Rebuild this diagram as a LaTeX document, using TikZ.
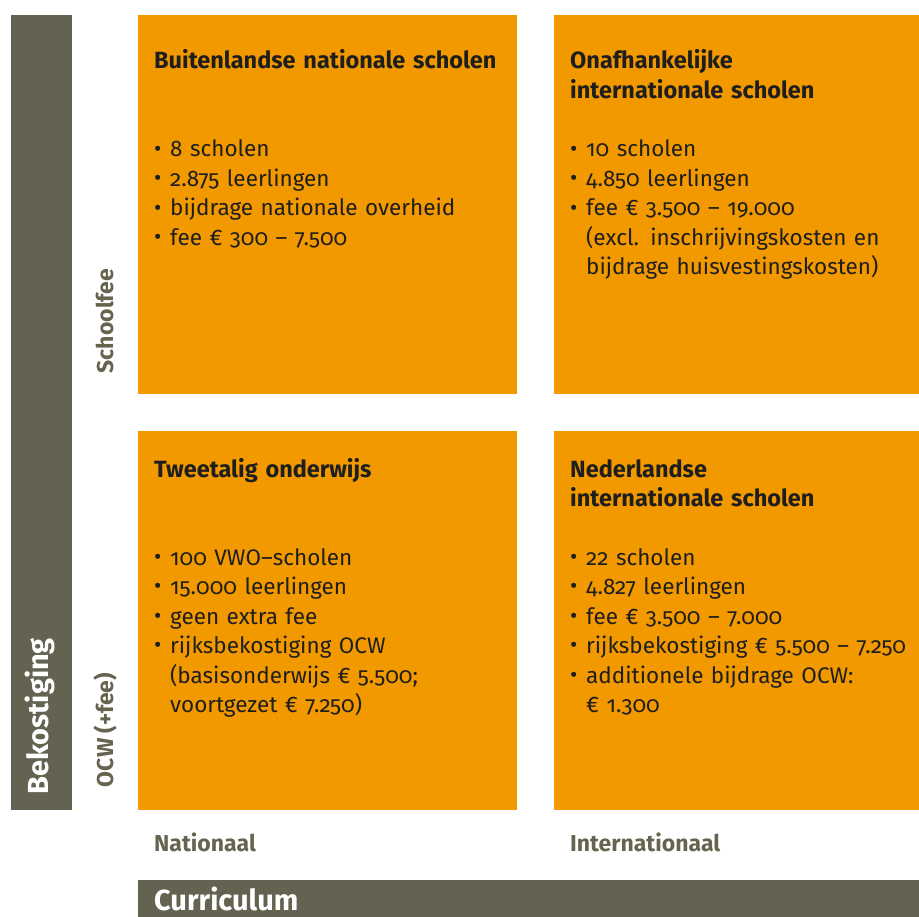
\documentclass[tikz,border=0pt]{standalone}
\usepackage{fontspec}
\setmainfont{Fira Sans}[Numbers=OldStyle]
\usetikzlibrary{positioning}

\definecolor{barcol}{HTML}{646251}
\definecolor{boxcol}{HTML}{F29900}
\definecolor{labelcol}{HTML}{66634F}
\definecolor{inkcol}{HTML}{1E1E1E}

\newcommand{\bul}{\makebox[16pt][l]{\raisebox{.05ex}{•}}}
\newcommand{\cont}{\hspace*{16pt}}

\tikzset{
  cell/.style={fill=boxcol, anchor=north west, inner sep=0pt, minimum height=379pt, minimum width=#1},
  bar/.style={fill=barcol, anchor=north west, inner sep=0pt},
  head/.style={anchor=base west, inner sep=0pt, text width=#1, align=left, text=inkcol,
    font=\fontsize{23.5}{29.5}\selectfont\bfseries},
  facts/.style={anchor=base west, inner sep=0pt, text width=#1, align=left, text=inkcol,
    font=\fontsize{22.5}{29.5}\selectfont},
  axis/.style={inner sep=0pt, text=labelcol, font=\fontsize{23}{26}\selectfont\bfseries},
  title/.style={inner sep=0pt, text=white, font=\fontsize{29}{32}\selectfont\bfseries}
}

\begin{document}
\begin{tikzpicture}[x=1pt, y=-1pt]
    \useasboundingbox (0,0) rectangle (919,917);

    % bars
    \node[bar, minimum width=61pt, minimum height=795pt] (vbar) at (11,15) {};
    \node[bar, minimum width=781pt, minimum height=37pt] (hbar) at (138,880) {};
    \node[title, rotate=90, anchor=base west] (bek) at (48,795) {Bekostiging};
    \node[title, anchor=base west] (cur) at (154,910) {Curriculum};

    % cells
    \node[cell=379pt] (nw) at (138,15) {};
    \node[cell=365pt] (ne) at (554,15) {};
    \node[cell=379pt] (sw) at (138,431) {};
    \node[cell=365pt] (se) at (554,431) {};

    % axis labels
    \node[axis, rotate=90, anchor=base] (sfee) at (113,321) {Schoolfee};
    \node[axis, rotate=90, anchor=base] (ocw) at (113,730) {OCW (+fee)};
    \node[axis, anchor=base west] (nat) at (154,851) {Nationaal};
    \node[axis, anchor=base west] (int) at (570,851) {Internationaal};

    % texts
    \node[head=360pt] (nwh) at ([xshift=16pt, yshift=-54pt]nw.north west) {Buitenlandse nationale scholen};
    \node[facts=360pt] (nwf) at ([xshift=16pt, yshift=-142pt]nw.north west)
        {\bul 8 scholen\\ \bul 2.875 leerlingen\\ \bul bijdrage nationale overheid\\ \bul fee € 300 – 7.500};

    \node[head=345pt] (neh) at ([xshift=16pt, yshift=-54pt]ne.north west) {Onafhankelijke\\ internationale scholen};
    \node[facts=350pt] (nef) at ([xshift=16pt, yshift=-142pt]ne.north west)
        {\bul 10 scholen\\ \bul 4.850 leerlingen\\ \bul fee € 3.500 – 19.000\\
         \cont(excl. inschrijvingskosten en\\ \cont bijdrage huisvestingskosten)};

    \node[head=360pt] (swh) at ([xshift=16pt, yshift=-46pt]sw.north west) {Tweetalig onderwijs};
    \node[facts=360pt] (swf) at ([xshift=16pt, yshift=-134pt]sw.north west)
        {\bul 100 VWO–scholen\\ \bul 15.000 leerlingen\\ \bul geen extra fee\\ \bul rijksbekostiging OCW\\
         \cont(basisonderwijs € 5.500;\\ \cont voortgezet € 7.250)};

    \node[head=345pt] (seh) at ([xshift=16pt, yshift=-46pt]se.north west) {Nederlandse\\ internationale scholen};
    \node[facts=360pt] (sef) at ([xshift=16pt, yshift=-134pt]se.north west)
        {\bul 22 scholen\\ \bul 4.827 leerlingen\\ \bul fee € 3.500 – 7.000\\ \bul rijksbekostiging € 5.500 – 7.250\\
         \bul additionele bijdrage OCW:\\ \cont € 1.300};
\end{tikzpicture}
\end{document}
